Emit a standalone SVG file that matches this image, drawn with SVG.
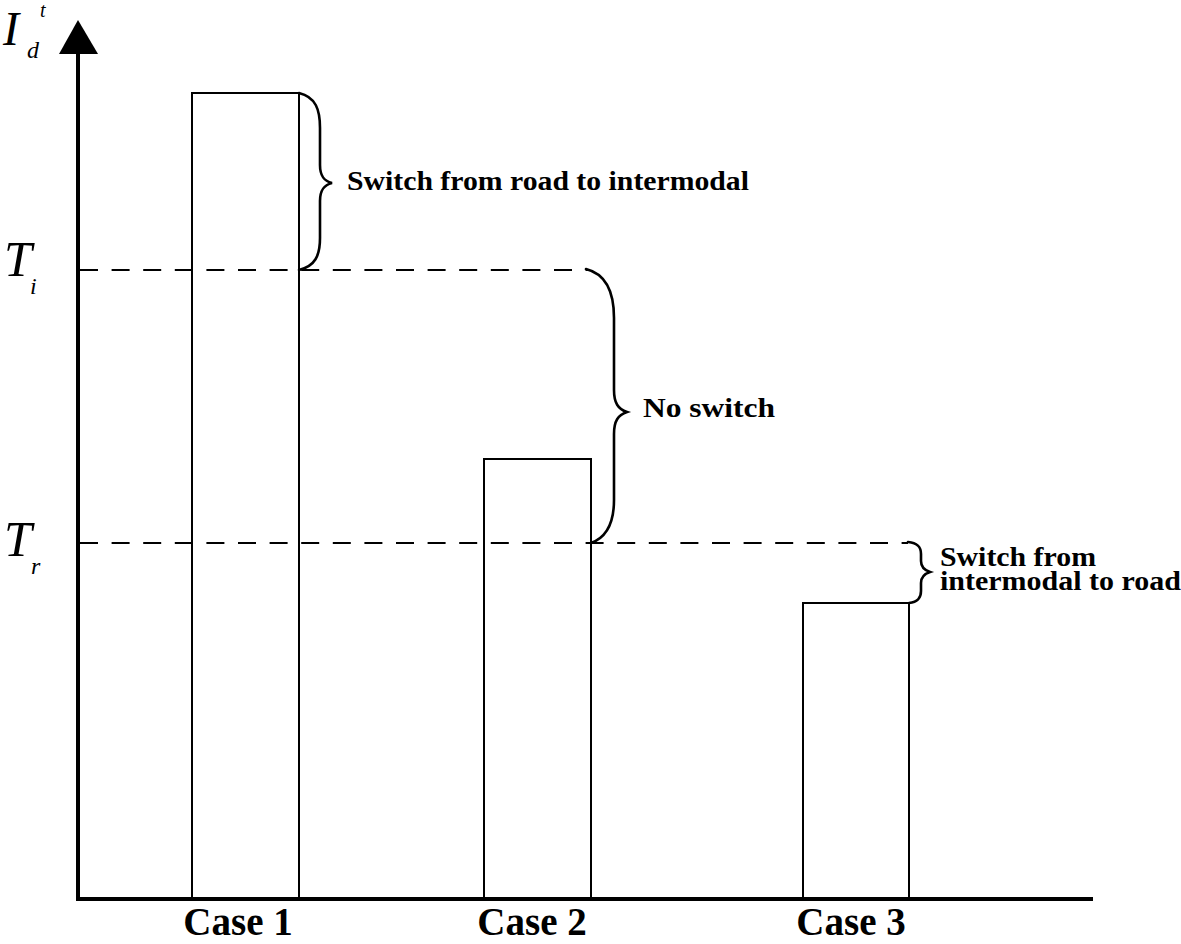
<svg xmlns="http://www.w3.org/2000/svg" width="1181" height="944" viewBox="0 0 1181 944">
<style>
.bar{fill:#fff;stroke:#000;stroke-width:2}
.dash{fill:none;stroke:#000;stroke-width:2;stroke-dasharray:18 13.6}
.brace{fill:none;stroke:#000;stroke-width:2.6;stroke-linecap:round}
.lbl{font-family:"Liberation Serif",serif;font-weight:bold;font-size:27px;fill:#000}
.case{font-family:"Liberation Serif",serif;font-weight:bold;font-size:39px;fill:#000;text-anchor:middle}
.ax{font-family:"Liberation Serif",serif;font-style:italic;fill:#000}
</style>
<rect width="1181" height="944" fill="#fff"/>
<g id="bar1"><rect class="bar" x="192" y="93" width="107" height="805"/></g>
<g id="bar2"><rect class="bar" x="484" y="459" width="107" height="439"/></g>
<g id="bar3"><rect class="bar" x="803" y="603" width="106" height="295"/></g>
<g id="connectors">
<line class="dash" x1="80" y1="270" x2="588" y2="270"/>
<line class="dash" x1="80" y1="543" x2="908" y2="543"/>
<path class="brace" d="M299,93 C316,97 320,110 320,128 L320,165 C320,176 324,181 332,183 C324,185 320,190 320,201 L320,238 C320,256 315,266 299,270"/>
<path class="brace" stroke-width="3" d="M586,269 C606,274 614,292 614,318 L614,390 C614,403 618,409 627,412 C618,415 614,421 614,434 L614,500 C614,524 605,538 591,543"/>
<path class="brace" stroke-width="2" d="M908,542 C918,543 921,547 921,554 L921,561 C921,567 924,570 930,572 C924,574 921,577 921,583 L921,591 C921,598 918,602 909,603"/>
</g>
<g id="axes">
<line x1="78" y1="52" x2="78" y2="899" stroke="#000" stroke-width="4"/>
<line x1="76" y1="899" x2="1093" y2="899" stroke="#000" stroke-width="4"/>
<polygon points="78,20 59,54 98,54" fill="#000"/>
</g>
<g id="label-yaxis">
<text class="ax" x="3" y="45" font-size="48">I</text>
<text class="ax" x="27" y="58" font-size="24">d</text>
<text class="ax" x="40" y="17" font-size="20">t</text>
</g>
<g id="label-Ti">
<text class="ax" x="4" y="276" font-size="50">T</text>
<text class="ax" x="30" y="294" font-size="24">i</text>
</g>
<g id="label-Tr">
<text class="ax" x="4" y="556" font-size="50">T</text>
<text class="ax" x="31" y="574" font-size="24">r</text>
</g>
<g id="note1"><text class="lbl" x="347" y="190" textLength="402" lengthAdjust="spacingAndGlyphs">Switch from road to intermodal</text></g>
<g id="note2"><text class="lbl" x="643" y="417" textLength="132" lengthAdjust="spacingAndGlyphs">No switch</text></g>
<g id="note3">
<text class="lbl" x="940" y="566" font-size="24" textLength="156" lengthAdjust="spacingAndGlyphs">Switch from</text>
<text class="lbl" x="940" y="590" font-size="24" textLength="241" lengthAdjust="spacingAndGlyphs">intermodal to road</text>
</g>
<g id="cases">
<text class="case" x="238" y="935">Case 1</text>
<text class="case" x="532" y="935">Case 2</text>
<text class="case" x="851" y="935">Case 3</text>
</g>
</svg>
